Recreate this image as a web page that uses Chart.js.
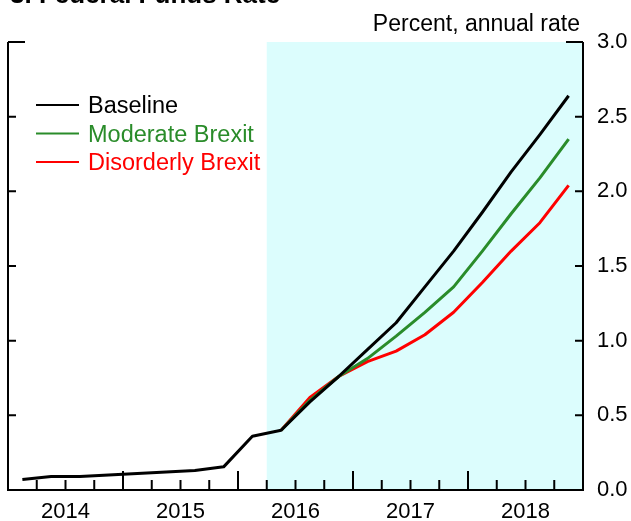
<!DOCTYPE html>
<html>
<head>
<meta charset="utf-8">
<script src="https://cdn.jsdelivr.net/npm/chart.js@4"></script>
<style>
  body { margin: 0; background: #fff; }
  canvas { display: block; }
</style>
</head>
<body>
<canvas id="chart-ffr" width="631" height="521"></canvas>
<script>
/* ── Datos: tasa de fondos federales, trimestral ─────────── */
const QUARTERS = [
  '2014Q1','2014Q2','2014Q3','2014Q4',
  '2015Q1','2015Q2','2015Q3','2015Q4',
  '2016Q1','2016Q2','2016Q3','2016Q4',
  '2017Q1','2017Q2','2017Q3','2017Q4',
  '2018Q1','2018Q2','2018Q3','2018Q4'
];
const BASELINE   = [0.07,0.09,0.09,0.10, 0.11,0.12,0.13,0.155, 0.36,0.40,0.59,0.76, 0.94,1.12,1.36,1.60, 1.86,2.13,2.38,2.64];
const MODERATE   = [null,null,null,null, null,null,null,null, null,0.40,0.60,0.76, 0.88,1.03,1.19,1.36, 1.60,1.85,2.09,2.35];
const DISORDERLY = [null,null,null,null, null,null,null,null, null,0.40,0.62,0.76, 0.86,0.93,1.04,1.19, 1.39,1.60,1.79,2.04];

const YEARS       = [2014, 2015, 2016, 2017, 2018];
const Y_TICKS     = [0, 0.5, 1, 1.5, 2, 2.5, 3];
const PROJ_START  = 2016.25;   // inicio del periodo proyectado (sombreado)

const FONT = "Arial, 'Liberation Sans', sans-serif";
const SERIES = [
  { label: 'Baseline',          data: BASELINE,   color: '#000000' },
  { label: 'Moderate Brexit',   data: MODERATE,   color: '#2a8c2a' },
  { label: 'Disorderly Brexit', data: DISORDERLY, color: '#ff0000' },
];

// posición del trimestre en el eje: mitad del trimestre
const qPos = q => +q.slice(0, 4) + (+q.slice(5) - 0.5) / 4;

/* ── Decoración: sombreado, ejes con marcas internas, leyenda ── */
const decor = {
  id: 'ffrDecor',
  beforeDatasetsDraw(chart) {
    const { ctx, chartArea: a, scales: { x } } = chart;
    ctx.save();
    ctx.fillStyle = '#dcfdfd';
    const x0 = x.getPixelForValue(PROJ_START);
    ctx.fillRect(x0, a.top, a.right - x0, a.bottom - a.top);
    ctx.restore();
  },
  afterDatasetsDraw(chart) {
    const { ctx, chartArea: a, scales: { x, y } } = chart;
    ctx.save();
    ctx.strokeStyle = '#000';
    ctx.lineWidth = 2;
    ctx.lineCap = 'butt';

    // ejes izquierdo, derecho e inferior
    ctx.beginPath();
    ctx.moveTo(a.left, a.top); ctx.lineTo(a.left, a.bottom);
    ctx.moveTo(a.right, a.top); ctx.lineTo(a.right, a.bottom);
    ctx.moveTo(a.left - 1, a.bottom); ctx.lineTo(a.right + 1, a.bottom);
    ctx.stroke();

    // marcas del eje Y (hacia dentro) y etiquetas a la derecha
    ctx.fillStyle = '#000';
    ctx.font = `22px ${FONT}`;
    ctx.textAlign = 'left';
    ctx.textBaseline = 'alphabetic';
    Y_TICKS.forEach(v => {
      const py = y.getPixelForValue(v);
      const len = v === 3 ? 17 : 8;
      ctx.beginPath();
      if (v > 0) {
        ctx.moveTo(a.left, py); ctx.lineTo(a.left + len, py);
        ctx.moveTo(a.right, py); ctx.lineTo(a.right - len, py);
      }
      ctx.stroke();
      ctx.fillText(v.toFixed(1), a.right + 14, py + 6);
    });

    // marcas trimestrales del eje X (hacia arriba)
    for (let i = 1; i < YEARS.length * 4; i++) {
      const px = x.getPixelForValue(YEARS[0] + i / 4);
      const len = i % 4 === 0 ? 19 : 10;
      ctx.beginPath();
      ctx.moveTo(px, a.bottom); ctx.lineTo(px, a.bottom - len);
      ctx.stroke();
    }
    ctx.textAlign = 'center';
    YEARS.forEach(yr => {
      ctx.fillText(String(yr), x.getPixelForValue(yr + 0.5), a.bottom + 28);
    });

    // unidad
    ctx.font = `23px ${FONT}`;
    ctx.textAlign = 'right';
    ctx.fillText('Percent, annual rate', a.right - 3, 31);

    // título (recortado por el borde superior)
    ctx.font = `bold 26px ${FONT}`;
    ctx.textAlign = 'left';
    ctx.fillText('3. Federal Funds Rate', 10, 3);

    // leyenda
    ctx.font = `23.5px ${FONT}`;
    SERIES.forEach((s, i) => {
      const ly = 105 + i * 28.5;
      ctx.strokeStyle = s.color;
      ctx.lineWidth = 2;
      ctx.beginPath();
      ctx.moveTo(36, ly); ctx.lineTo(79, ly);
      ctx.stroke();
      ctx.fillStyle = s.color;
      ctx.fillText(s.label, 88, ly + 8);
    });
    ctx.restore();
  }
};

new Chart(document.getElementById('chart-ffr'), {
  type: 'line',
  data: {
    datasets: SERIES.map(s => ({
      label: s.label,
      data: QUARTERS.map((q, i) => ({ x: qPos(q), y: s.data[i] })),
      borderColor: s.color,
      borderWidth: 3,
      pointRadius: 0,
      tension: 0,
      spanGaps: false,
      borderJoinStyle: 'round',
    })),
  },
  options: {
    responsive: false,
    animation: false,
    layout: { padding: { left: 8, right: 48, top: 42, bottom: 31 } },
    scales: {
      x: { type: 'linear', min: 2014, max: 2019, display: false },
      y: { min: 0, max: 3, display: false },
    },
    plugins: { legend: { display: false }, tooltip: { enabled: false } },
  },
  plugins: [decor],
});
</script>
</body>
</html>
